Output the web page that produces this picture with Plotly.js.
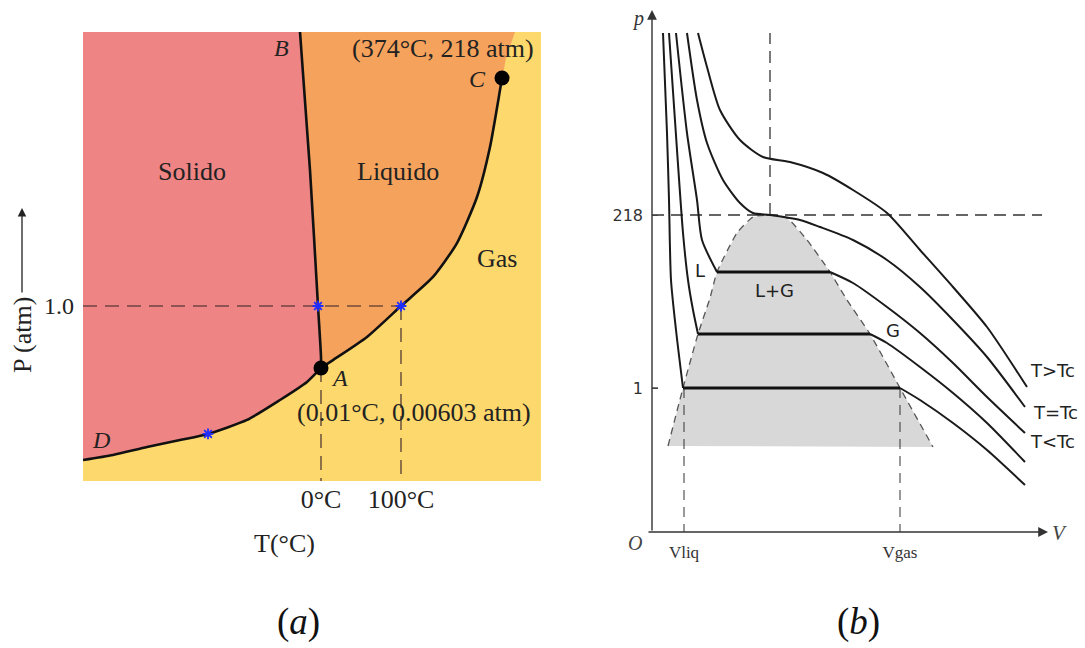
<!DOCTYPE html>
<html><head><meta charset="utf-8">
<script src="https://cdn.plot.ly/plotly-3.0.1.min.js"></script>
<style>html,body{margin:0;padding:0;background:#fff}#chart{width:1085px;height:648px}</style>
</head><body><div id="chart"></div>
<script>
// ---------- Panel (a): phase diagram of water (schematic T, P) ----------
const subT = [-297.5,-260,-217.5,-176.25,-141.25,-92.5,-51.25,-17.5,0.01];
const subP = [0.12,0.149,0.194,0.234,0.269,0.349,0.463,0.566,0.646];
const vapT = [0.01,15,57.5,100,140,170,195,211.25,223.75,226.25];
const vapP = [0.646,0.691,0.823,1.0,1.166,1.36,1.623,1.909,2.234,2.303];
const fusT = [0.01,0,-3.75,-13.75,-26.25];
const fusP = [0.646,0.709,1.0,1.777,2.566];
const supercritT = [242.5,231.25];
const supercritP = [2.566,2.417];
const tRange = [-297.5,275], pRange = [0,2.566];
const tripleT = 0.01, tripleP = 0.646, critT = 226.25, critP = 2.303;
const starT = [-3.75,100,-141.25], starP = [1.0,1.0,0.269];
const tTicks = [0,100], tTickText = ['0°C','100°C'];
const pTicks = [1.0], pTickText = ['1.0'];
const oneAtm = 1.0;

// ---------- Panel (b): p-V isotherms (schematic V, p) ----------
const iso1V = [0.11,0.15,0.17,0.19,0.24,0.31,2.48,2.68,3.01,3.35,3.73];
const iso1p = [4.99,3.99,3.32,2.52,2.02,1.44,1.44,1.32,1.09,0.82,0.47];
const iso2V = [0.17,0.25,0.31,0.36,0.41,0.46,2.18,2.35,2.68,3.01,3.35,3.73];
const iso2p = [4.99,3.82,2.99,2.52,2.22,1.98,1.98,1.89,1.65,1.39,1.09,0.70];
const iso3V = [0.24,0.35,0.45,0.50,0.65,1.78,2.01,2.35,2.68,3.01,3.35,3.73];
const iso3p = [4.99,3.99,3.32,2.92,2.60,2.60,2.49,2.25,1.99,1.69,1.35,0.99];
const isoCV = [0.35,0.45,0.55,0.71,0.88,1.01,1.18,1.48,1.68,2.01,2.35,2.68,3.01,3.35,3.73];
const isoCp = [4.99,4.32,3.89,3.52,3.29,3.19,3.17,3.12,3.05,2.92,2.72,2.45,2.12,1.75,1.25];
const isoHV = [0.46,0.55,0.68,0.88,1.11,1.38,1.71,2.01,2.35,2.68,3.01,3.35,3.75];
const isoHp = [4.99,4.65,4.22,3.92,3.75,3.70,3.59,3.42,3.19,2.82,2.45,2.05,1.45];
const domeV = [0.16,0.31,0.46,0.58,0.65,0.85,1.01,1.18,1.35,1.55,1.78,1.95,2.18,2.48,2.81];
const domep = [0.86,1.44,1.98,2.34,2.60,2.99,3.15,3.17,3.14,2.92,2.60,2.32,1.98,1.44,0.85];
const pCrit = 3.17, vCrit = 1.18, pTop = 4.99;
const vLiq = 0.32, vGas = 2.48, pOne = 1.44;
const vMax = 3.96, pMax = 5.22, vDashEnd = 3.90;
const p2Ticks = [pOne, pCrit], p2TickText = ['1','218'];
const v2Ticks = [vLiq, vGas], v2TickText = ['Vliq','Vgas'];

// ---------- helpers ----------
const X = px => px/1085, Y = py => (648-py)/648;
const rev = a => a.slice().reverse();
const SERIF = 'Liberation Serif', SANS = 'DejaVu Sans';
const COL_SOLID = 'rgb(239,132,132)', COL_LIQ = 'rgb(245,162,92)', COL_GAS = 'rgb(253,216,108)';
const FS = 26;

const traces = [];
// solid region
traces.push({x:[tRange[0]].concat(rev(fusT), rev(subT).slice(1)), y:[pRange[1]].concat(rev(fusP), rev(subP).slice(1)),
  fill:'toself', fillcolor:COL_SOLID, line:{width:0}, mode:'lines', hoverinfo:'skip', xaxis:'x', yaxis:'y'});
// liquid region
traces.push({x:[fusT[fusT.length-1]].concat(supercritT, rev(vapT), fusT.slice(1)),
  y:[fusP[fusP.length-1]].concat(supercritP, rev(vapP), fusP.slice(1)),
  fill:'toself', fillcolor:COL_LIQ, line:{width:0}, mode:'lines', hoverinfo:'skip', xaxis:'x', yaxis:'y'});
// dashed guides
const guide = {color:'rgba(70,45,45,0.75)', width:1.6, dash:'14px,8px'};
traces.push({x:[tRange[0], 100], y:[oneAtm, oneAtm], mode:'lines', line:guide, xaxis:'x', yaxis:'y'});
traces.push({x:[0,0], y:[tripleP, 0], mode:'lines', line:guide, xaxis:'x', yaxis:'y'});
traces.push({x:[100,100], y:[oneAtm, 0], mode:'lines', line:guide, xaxis:'x', yaxis:'y'});
// coexistence curves
const curve = {color:'#111', width:2.6, shape:'spline', smoothing:0.6};
traces.push({x:subT, y:subP, mode:'lines', line:curve, xaxis:'x', yaxis:'y'});
traces.push({x:vapT, y:vapP, mode:'lines', line:curve, xaxis:'x', yaxis:'y'});
traces.push({x:fusT, y:fusP, mode:'lines', line:curve, xaxis:'x', yaxis:'y'});
// points
traces.push({x:starT, y:starP, mode:'markers', marker:{symbol:'asterisk', size:9, color:'#1f2dff', line:{color:'#1f2dff', width:1.8}}, xaxis:'x', yaxis:'y'});
traces.push({x:[tripleT, critT], y:[tripleP, critP], mode:'markers', marker:{color:'#000', size:15}, xaxis:'x', yaxis:'y'});

// ---- panel (b)
traces.push({x:domeV.concat([domeV[0]]), y:domep.concat([domep[0]]), fill:'toself', fillcolor:'rgb(216,216,216)', line:{width:0}, mode:'lines', xaxis:'x2', yaxis:'y2'});
traces.push({x:domeV, y:domep, mode:'lines', line:{color:'#555', width:1.3, dash:'7px,5px', shape:'spline', smoothing:0.5}, xaxis:'x2', yaxis:'y2'});
const dash2 = {color:'#333', width:1.3, dash:'12px,7px'};
traces.push({x:[0, vDashEnd], y:[pCrit, pCrit], mode:'lines', line:dash2, xaxis:'x2', yaxis:'y2'});
traces.push({x:[vCrit, vCrit], y:[pCrit, pTop], mode:'lines', line:dash2, xaxis:'x2', yaxis:'y2'});
const dash3 = {color:'#333', width:1, dash:'10px,7px'};
traces.push({x:[vLiq, vLiq], y:[pOne, 0], mode:'lines', line:dash3, xaxis:'x2', yaxis:'y2'});
traces.push({x:[vGas, vGas], y:[pOne, 0], mode:'lines', line:dash3, xaxis:'x2', yaxis:'y2'});
traces.push({x:[-0.06, 0.06], y:[pOne, pOne], mode:'lines', line:{color:'#333', width:1.3}, xaxis:'x2', yaxis:'y2'});

function addIso(V, P){
  // split into branches at the horizontal tie line
  let k = -1;
  for (let i=0;i<P.length-1;i++) if (P[i]===P[i+1]) k = i;
  const ln = {color:'#1a1a1a', width:2, shape:'spline', smoothing:0.7};
  if (k < 0) { traces.push({x:V, y:P, mode:'lines', line:ln, xaxis:'x2', yaxis:'y2'}); return; }
  traces.push({x:V.slice(0,k+1), y:P.slice(0,k+1), mode:'lines', line:ln, xaxis:'x2', yaxis:'y2'});
  traces.push({x:[V[k],V[k+1]], y:[P[k],P[k+1]], mode:'lines', line:{color:'#111', width:3}, xaxis:'x2', yaxis:'y2'});
  traces.push({x:V.slice(k+1), y:P.slice(k+1), mode:'lines', line:ln, xaxis:'x2', yaxis:'y2'});
}
addIso(iso1V, iso1p); addIso(iso2V, iso2p); addIso(iso3V, iso3p); addIso(isoCV, isoCp); addIso(isoHV, isoHp);

const noGrid = {showgrid:false, zeroline:false, showline:false, fixedrange:true};
const layout = {
  width:1085, height:648, margin:{l:0,r:0,t:0,b:0}, paper_bgcolor:'#fff', plot_bgcolor:'rgba(0,0,0,0)',
  showlegend:false, hovermode:false,
  xaxis:Object.assign({domain:[X(83),X(541)], range:tRange, anchor:'y', tickvals:tTicks, ticktext:tTickText, ticks:'',
    tickfont:{family:SERIF, size:FS, color:'#222'}, ticklabelstandoff:0}, noGrid),
  yaxis:Object.assign({domain:[Y(481),Y(32)], range:pRange, anchor:'x', tickvals:pTicks, ticktext:pTickText, ticks:'',
    tickfont:{family:SERIF, size:24, color:'#222'}, ticklabelstandoff:8}, noGrid),
  xaxis2:Object.assign({domain:[X(652),X(1048)], range:[0,vMax], anchor:'y2', tickvals:v2Ticks, ticktext:v2TickText, ticks:'',
    tickfont:{family:SERIF, size:17, color:'#333'}, ticklabelstandoff:8}, noGrid),
  yaxis2:Object.assign({domain:[Y(532),Y(10)], range:[0,pMax], anchor:'x2', tickvals:p2Ticks, ticktext:p2TickText, ticks:'inside', ticklen:6, tickcolor:'#444',
    tickfont:{family:SANS, size:16, color:'#333'}, ticklabelstandoff:8}, noGrid),
  shapes:[{type:'rect', xref:'x domain', yref:'y domain', x0:0, x1:1, y0:0, y1:1, fillcolor:COL_GAS, line:{width:0}, layer:'below'}],
  annotations:[]
};
const A = layout.annotations;
const ta = (x,y,t,o) => A.push(Object.assign({x:x, y:y, xref:'x', yref:'y', text:t, showarrow:false, xanchor:'center', yanchor:'middle', font:{family:SERIF, size:FS, color:'#222'}}, o||{}));
ta(-161.25,1.766,'Solido'); ta(96.25,1.766,'Liquido'); ta(220,1.269,'Gas');
ta(152.5,2.474,'(374°C, 218 atm)'); ta(-50,2.474,'<i>B</i>',{font:{family:SERIF, size:24, color:'#222'}});
ta(195,2.297,'<i>C</i>',{font:{family:SERIF, size:24, color:'#222'}});
ta(22.5,0.589,'<i>A</i>',{font:{family:SERIF, size:24, color:'#222'}});
ta(116.25,0.394,'(0.01°C, 0.00603 atm)'); ta(-275,0.234,'<i>D</i>',{font:{family:SERIF, size:24, color:'#222'}});
const tp = (px,py,t,o) => A.push(Object.assign({x:X(px), y:Y(py), xref:'paper', yref:'paper', text:t, showarrow:false, xanchor:'center', yanchor:'middle', font:{family:SERIF, size:FS, color:'#222'}}, o||{}));
tp(285,543,'T(°C)');
tp(22,335,'P (atm)',{textangle:-90});
A.push({x:X(22), y:Y(208), xref:'paper', yref:'paper', text:'', showarrow:true, ax:0, ay:86, arrowhead:2, arrowsize:1.3, arrowwidth:1.3, arrowcolor:'#222'});
tp(298,622,'(<i>a</i>)',{font:{family:SERIF, size:37, color:'#111'}});
tp(858,622,'(<i>b</i>)',{font:{family:SERIF, size:37, color:'#111'}});
// panel (b) axes with arrows
A.push({x:0, y:pMax, xref:'x2', yref:'y2', axref:'x2', ayref:'y2', ax:0, ay:0, text:'', showarrow:true, arrowhead:2, arrowsize:1.4, arrowwidth:1.4, arrowcolor:'#333'});
A.push({x:vMax, y:0, xref:'x2', yref:'y2', axref:'x2', ayref:'y2', ax:-0.05, ay:0, text:'', showarrow:true, arrowhead:2, arrowsize:1.4, arrowwidth:1.4, arrowcolor:'#333'});
tp(638,18,'<i>p</i>',{font:{family:SERIF, size:20, color:'#333'}});
tp(635,543,'<i>O</i>',{font:{family:SERIF, size:20, color:'#444'}});
tp(1059,533,'<i>V</i>',{font:{family:SERIF, size:21, color:'#444'}});
const tb = (x,y,t,o) => A.push(Object.assign({x:x, y:y, xref:'x2', yref:'y2', text:t, showarrow:false, xanchor:'center', yanchor:'middle', font:{family:SANS, size:18, color:'#222'}}, o||{}));
tb(0.48,2.62,'L'); tb(1.22,2.42,'L+G'); tb(2.41,2.02,'G');
tb(3.76,1.62,'T>Tc',{xanchor:'left'}); tb(3.79,1.20,'T=Tc',{xanchor:'left'}); tb(3.76,0.91,'T<Tc',{xanchor:'left'});

Plotly.newPlot('chart', traces, layout, {displayModeBar:false, staticPlot:true});
</script></body></html>
